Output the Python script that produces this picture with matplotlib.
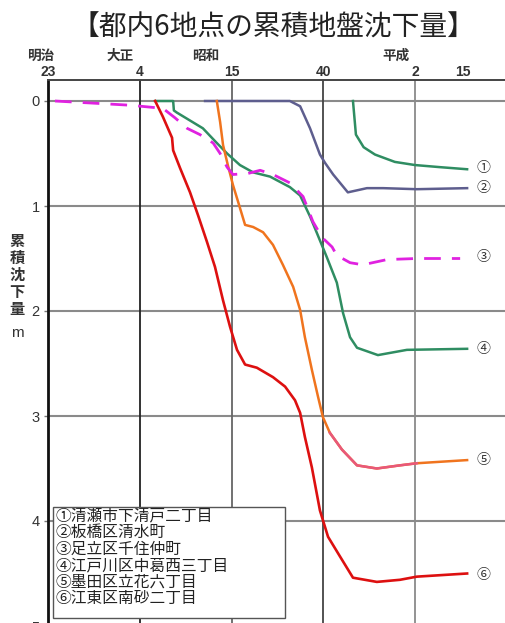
import matplotlib
matplotlib.use("Agg")
import matplotlib.pyplot as plt
from matplotlib.patches import Rectangle

plt.rcParams['font.family'] = ['Noto Sans CJK JP', 'DejaVu Sans']

# ---- data: year vs cumulative subsidence (m) ----
yr1 = [1973.1, 1973.9, 1976.0, 1979.1, 1984.5, 1990.0, 1996.8, 2004.2]
d1 = [0.00, 0.32, 0.44, 0.51, 0.58, 0.61, 0.63, 0.65]

yr2 = [1932.8, 1945.0, 1955.9, 1958.7, 1961.4, 1964.1, 1965.5, 1967.7, 1971.7,
       1976.9, 1981.3, 1990.5, 2004.2]
d2 = [0.00, 0.00, 0.00, 0.05, 0.26, 0.51, 0.59, 0.70, 0.87, 0.83, 0.83, 0.84, 0.83]

yr3 = [1891.9, 1912.3, 1921.3, 1924.6, 1927.9, 1931.4, 1935.0, 1936.9, 1938.8,
       1940.4, 1944.5, 1947.8, 1951.3, 1955.9, 1959.5, 1962.2, 1964.7, 1967.4,
       1968.7, 1972.3, 1975.8, 1982.4, 1990.5, 2002.3]
d3 = [0.00, 0.04, 0.07, 0.16, 0.26, 0.32, 0.40, 0.50, 0.63, 0.70, 0.69, 0.66,
      0.70, 0.78, 0.91, 1.15, 1.30, 1.39, 1.47, 1.54, 1.56, 1.51, 1.50, 1.50]

yr4 = [1919.2, 1924.1, 1924.3, 1925.1, 1932.2, 1936.0, 1938.8, 1942.3, 1945.9,
       1950.5, 1955.9, 1958.7, 1961.4, 1963.3, 1966.0, 1968.7, 1970.4, 1972.3,
       1974.2, 1979.9, 1987.8, 2004.2]
d4 = [0.00, 0.00, 0.09, 0.11, 0.26, 0.40, 0.50, 0.61, 0.68, 0.72, 0.82, 0.90,
      1.10, 1.26, 1.49, 1.73, 2.02, 2.25, 2.35, 2.42, 2.37, 2.36]

yr5 = [1936.0, 1936.9, 1937.7, 1939.0, 1940.4, 1941.8, 1943.7, 1945.9, 1948.6,
       1951.3, 1954.0, 1956.8, 1958.7, 1960.0, 1961.9, 1963.6, 1964.9, 1966.8,
       1970.1, 1974.2, 1979.6, 1985.9, 1990.5, 2004.2]
d5 = [0.00, 0.20, 0.42, 0.61, 0.80, 0.96, 1.18, 1.20, 1.25, 1.37, 1.56, 1.77,
      1.99, 2.25, 2.56, 2.82, 3.01, 3.16, 3.32, 3.47, 3.50, 3.47, 3.45, 3.42]

yr6 = [1919.2, 1921.3, 1923.8, 1924.1, 1926.0, 1928.7, 1930.9, 1933.3, 1935.5,
       1937.7, 1939.6, 1941.5, 1943.7, 1946.9, 1951.3, 1954.6, 1957.3, 1958.7,
       1960.0, 1961.9, 1964.1, 1966.3, 1969.6, 1973.1, 1979.6, 1985.9, 1990.5,
       2004.2]
d6 = [0.00, 0.15, 0.35, 0.47, 0.64, 0.87, 1.09, 1.34, 1.58, 1.90, 2.15, 2.37,
      2.51, 2.54, 2.63, 2.72, 2.85, 2.97, 3.20, 3.49, 3.90, 4.15, 4.34, 4.54,
      4.58, 4.56, 4.53, 4.50]

# top axis: gridline years and their era-year labels
tick_years = [1890, 1915, 1940, 1965, 1990, 2003]
tick_labels = ['23', '4', '15', '40', '2', '15']
era_names = ['明治', '大正', '昭和', '平成']
era_pos = [1888.1, 1909.6, 1933.1, 1984.8]

depth_ticks = [0, 1, 2, 3, 4, 5]

site_marks = ['①', '②', '③', '④', '⑤', '⑥']
site_names = ['清瀬市下清戸二丁目', '板橋区清水町', '足立区千住仲町',
              '江戸川区中葛西三丁目', '墨田区立花六丁目', '江東区南砂二丁目']
end_depths = [0.64, 0.83, 1.49, 2.36, 3.42, 4.51]

# ---- figure / axes ----
W, H = 506, 623
fig = plt.figure(figsize=(W / 100, H / 100), dpi=100)
px_per_year = 3.67
x0, x1 = 1890, 2015
ax_left = 48 / W
ax_w = (x1 - x0) * px_per_year / W
y_top_px, y_bot_px = 80, 631.25
ax = fig.add_axes([ax_left, 1 - y_bot_px / H, ax_w, (y_bot_px - y_top_px) / H])
ax.set_xlim(x0, x1)
ax.set_ylim(5.05, -0.2)

for s in ['right', 'bottom']:
    ax.spines[s].set_visible(False)
ax.spines['left'].set_linewidth(2.0)
ax.spines['left'].set_color('#111111')
ax.spines['top'].set_linewidth(1.4)
ax.spines['top'].set_color('#444444')

# grid
for d in depth_ticks:
    ax.axhline(d, color='#8a8a8a', lw=1.5, zorder=1)
vcolors = ['#222222', '#666666', '#444444', '#8a8a8a']
for yv, c in zip(tick_years[1:5], vcolors):
    ax.axvline(yv, color=c, lw=1.3, zorder=1)

# y ticks
ax.set_yticks(depth_ticks)
ax.set_yticklabels([str(d) for d in depth_ticks], family='Liberation Sans',
                   fontsize=10.5, color='#333333')
ax.tick_params(axis='y', length=3, width=1, color='#777777', pad=3)

# top ticks
ax.xaxis.tick_top()
ax.set_xticks(tick_years)
ax.set_xticklabels(tick_labels, family='Liberation Sans', fontsize=10,
                   fontweight='bold', color='#333333')
ax.tick_params(axis='x', length=0, pad=0.5)
tr = ax.get_xaxis_transform()
for name, xp in zip(era_names, era_pos):
    ax.text(xp, 1.044, name, transform=tr, ha='center', va='center',
            fontsize=9.8, fontweight='bold', color='#333333', clip_on=False)

# curves
green = '#2f8d62'
ax.plot(yr1, d1, color=green, lw=1.8, zorder=3)
ax.plot(yr2, d2, color='#5e5e8e', lw=1.8, zorder=3)
ax.plot(yr4, d4, color=green, lw=1.8, zorder=3)
ax.plot(yr5, d5, color='#f0741e', lw=1.8, zorder=3)
k = yr5.index(1966.8)
ax.plot(yr5[k:-1], d5[k:-1], color='#e8587a', lw=1.8, zorder=3)
ax.plot(yr6, d6, color='#dd1010', lw=1.9, zorder=3)
ax.plot(yr3, d3, color='#e022e0', lw=2.0, dashes=(6, 4), zorder=4)

# end markers
for m, dv in zip(site_marks, end_depths):
    ax.text(2008.6, dv, m, ha='center', va='center', fontsize=10,
            color='#333333', zorder=5)

# y axis title
fig.text(17 / W, 1 - 275 / H, '\n'.join('累積沈下量'), ha='center', va='center',
         fontsize=11, fontweight='bold', color='#333333', linespacing=1.08)
fig.text(17 / W, 1 - 333 / H, 'm', ha='center', va='center',
         family='Liberation Sans', fontsize=11, color='#333333')

# site list box
box = Rectangle((53 / W, 1 - 618 / H), (285 - 53) / W, (618 - 507) / H,
                transform=fig.transFigure, facecolor='white',
                edgecolor='#555555', lw=1.0, zorder=6)
fig.add_artist(box)
line_y = [516, 532.5, 549, 565.5, 582, 598.5]
for m, nm, yp in zip(site_marks, site_names, line_y):
    fig.text(56 / W, 1 - yp / H, m + nm, ha='left', va='center',
             fontsize=11.3, color='#222222', zorder=7)

# title
fig.text(273 / W, 1 - 28 / H, '【都内6地点の累積地盤沈下量】', ha='center',
         va='center', fontsize=20, color='#222222')

fig.savefig('out.png', dpi=100, facecolor='white')
